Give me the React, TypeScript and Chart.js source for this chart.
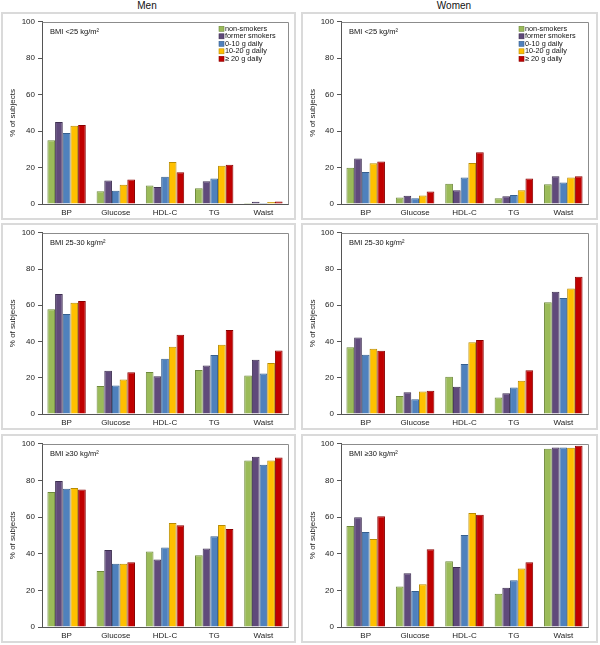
import React, { useEffect, useRef } from "react";
import { Chart, registerables } from "chart.js";

Chart.register(...registerables);

const categories = ["BP", "Glucose", "HDL-C", "TG", "Waist"];
const seriesLabels = ["non-smokers", "former smokers", "0-10 g daily", "10-20 g daily", "\u2265 20 g daily"];
const seriesColors = ["#9BBB59", "#604A7B", "#4F81BD", "#FFC000", "#C00000"];
const seriesBorders = ["#6F8A3C", "#3E2F52", "#37608F", "#B98C00", "#8A0000"];
const yTicks = [0, 20, 40, 60, 80, 100];
const columnTitles = ["Men", "Women"];
const bmiLabels = ["BMI <25 kg/m\u00B2", "BMI 25-30 kg/m\u00B2", "BMI \u226530 kg/m\u00B2"];

// each row: one series (non-smokers, former, 0-10, 10-20, >=20) across categories
const menUnder25 = [
  [35, 7, 10.2, 8.6, 0.5],
  [45, 12.9, 9.3, 12.5, 1.2],
  [39, 7.3, 15, 14, 0.5],
  [43, 10.6, 23.1, 21, 1.1],
  [43.4, 13.4, 17.4, 21.5, 1.4],
];
const womenUnder25 = [
  [19.9, 3.6, 11.1, 3.2, 10.9],
  [25, 4.5, 7.5, 4.3, 15.2],
  [17.5, 3.2, 14.5, 5, 11.8],
  [22.4, 4.7, 22.5, 7.5, 14.5],
  [23.3, 6.8, 28.4, 14, 15.2],
];
const men25to30 = [
  [57.8, 15.4, 23.2, 24.3, 21.2],
  [66.2, 23.9, 20.8, 26.7, 30],
  [55.2, 15.7, 30.5, 32.5, 22.3],
  [61.4, 19, 37.1, 38.2, 28.2],
  [62.3, 23, 43.7, 46.4, 35],
];
const women25to30 = [
  [36.9, 9.9, 20.6, 9.1, 61.7],
  [42.2, 12, 15.1, 11.5, 67.5],
  [32.7, 8.2, 27.6, 14.6, 64],
  [36, 12.4, 39.6, 18.4, 69.3],
  [34.9, 12.8, 40.9, 24.1, 75.7],
];
const menOver30 = [
  [73.7, 30.5, 41.2, 39.2, 90.9],
  [79.7, 42, 36.9, 42.9, 92.9],
  [75.4, 34.5, 43.4, 49.6, 88.5],
  [75.9, 34.5, 56.8, 55.7, 90.9],
  [75, 35.4, 55.5, 53.5, 92.5],
];
const womenOver30 = [
  [55.1, 22.1, 35.9, 18.1, 97.3],
  [59.9, 29.4, 32.8, 21.4, 98],
  [51.8, 19.7, 50.2, 25.5, 98],
  [48, 23.4, 62.2, 31.9, 97.8],
  [60.4, 42.5, 61.3, 35.4, 98.9],
];

const FONT = "'Liberation Sans', Arial, sans-serif";

type PanelProps = {
  data: number[][];
  bmi: string;
  legend: boolean;
  left: number;
  top: number;
  width: number;
  height: number;
  yWidth: number;
  padRight: number;
};

function Panel(props: PanelProps) {
  const ref = useRef<HTMLCanvasElement | null>(null);
  const cw = props.width - 4;
  const ch = props.height - 4;
  useEffect(() => {
    if (!ref.current) return;
    const overlay = {
      id: "overlay",
      afterDraw(chart: any) {
        const { ctx, chartArea } = chart;
        ctx.save();
        ctx.strokeStyle = "#8c8c8c";
        ctx.lineWidth = 1;
        ctx.beginPath();
        ctx.moveTo(Math.round(chartArea.left) + 0.5, Math.round(chartArea.top) + 0.5);
        ctx.lineTo(Math.round(chartArea.right) + 0.5, Math.round(chartArea.top) + 0.5);
        ctx.lineTo(Math.round(chartArea.right) + 0.5, Math.round(chartArea.bottom) + 0.5);
        ctx.stroke();
        ctx.fillStyle = "#111";
        ctx.font = "7.5px " + FONT;
        ctx.textBaseline = "middle";
        ctx.textAlign = "left";
        ctx.fillText(props.bmi, chartArea.left + 8, chartArea.top + 10);
        if (props.legend) {
          ctx.font = "7.3px " + FONT;
          const lx = chartArea.right - 69;
          seriesLabels.forEach((lab, i) => {
            const y = chartArea.top + 7 + i * 7.5;
            ctx.fillStyle = seriesColors[i];
            ctx.fillRect(lx, y - 2.5, 5, 5);
            ctx.strokeStyle = seriesBorders[i];
            ctx.lineWidth = 0.6;
            ctx.strokeRect(lx, y - 2.5, 5, 5);
            ctx.fillStyle = "#111";
            ctx.fillText(lab, lx + 6, y);
          });
        }
        ctx.restore();
      },
    };
    const chart = new Chart(ref.current, {
      type: "bar",
      data: {
        labels: categories,
        datasets: props.data.map((vals, i) => ({
          label: seriesLabels[i],
          data: vals,
          backgroundColor: seriesColors[i],
          borderColor: seriesBorders[i],
          borderWidth: 1,
          categoryPercentage: 0.78,
          barPercentage: 1,
        })),
      },
      options: {
        responsive: false,
        animation: false,
        devicePixelRatio: 1,
        layout: { padding: { top: 4, right: props.padRight, left: 5, bottom: 0 } },
        plugins: { legend: { display: false }, tooltip: { enabled: false } },
        scales: {
          x: {
            grid: { display: false, drawTicks: false },
            border: { display: true, color: "#555", width: 1 },
            ticks: { font: { size: 8, family: FONT }, color: "#222", padding: 4 },
            afterFit: (s: any) => {
              s.height = 14;
            },
          },
          y: {
            min: 0,
            max: 100,
            afterBuildTicks: (s: any) => {
              s.ticks = yTicks.map((v) => ({ value: v }));
            },
            ticks: { font: { size: 8, family: FONT }, color: "#222", padding: 3 },
            grid: { drawOnChartArea: false, drawTicks: true, tickLength: 4, color: "#555" },
            border: { display: true, color: "#555", width: 1 },
            title: { display: true, text: "% of subjects", font: { size: 8, family: FONT }, color: "#222", padding: 0 },
            afterFit: (s: any) => {
              s.width = props.yWidth;
            },
          },
        },
      },
      plugins: [overlay],
    } as any);
    return () => chart.destroy();
  }, []);
  return (
    <div
      style={{
        position: "absolute",
        left: props.left,
        top: props.top,
        width: props.width,
        height: props.height,
        border: "2px solid #dadada",
        boxSizing: "border-box",
      }}
    >
      <canvas ref={ref} width={cw} height={ch} style={{ display: "block", width: cw, height: ch }} />
    </div>
  );
}

const rows = [
  { top: 12, height: 208 },
  { top: 223, height: 207 },
  { top: 434, height: 209 },
];
const cols = [
  { left: 1, width: 295, yWidth: 34, padRight: 6, center: 147 },
  { left: 301, width: 297, yWidth: 33, padRight: 8, center: 454 },
];
const panelData = [
  [menUnder25, womenUnder25],
  [men25to30, women25to30],
  [menOver30, womenOver30],
];

export default function App() {
  return (
    <div
      style={{
        position: "fixed",
        left: 0,
        top: 0,
        width: 600,
        height: 645,
        background: "#fff",
        fontFamily: FONT,
      }}
    >
      {cols.map((c, ci) => (
        <div
          key={"t" + ci}
          style={{
            position: "absolute",
            left: c.center - 50,
            width: 100,
            top: 0,
            height: 11,
            lineHeight: "11px",
            fontSize: 10,
            textAlign: "center",
            color: "#111",
          }}
        >
          {columnTitles[ci]}
        </div>
      ))}
      {rows.map((r, ri) =>
        cols.map((c, ci) => (
          <Panel
            key={ri + "-" + ci}
            data={panelData[ri][ci]}
            bmi={bmiLabels[ri]}
            legend={ri === 0}
            left={c.left}
            top={r.top}
            width={c.width}
            height={r.height}
            yWidth={c.yWidth}
            padRight={c.padRight}
          />
        ))
      )}
    </div>
  );
}
